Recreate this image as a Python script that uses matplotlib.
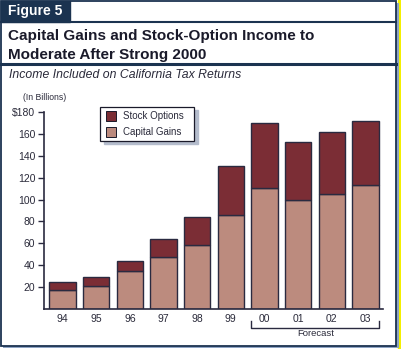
import matplotlib.pyplot as plt
from matplotlib.patches import Rectangle
from matplotlib.lines import Line2D

plt.rcParams['font.family'] = ['Liberation Sans', 'DejaVu Sans']

# Income included on California tax returns, in billions
years = ['94', '95', '96', '97', '98', '99', '00', '01', '02', '03']
capital_gains = [17, 21, 34, 47, 58, 85.5, 111, 100, 105.5, 113]
stock_options = [7, 7.5, 10, 16.5, 26, 45.5, 59, 52.5, 56, 59]

navy = '#1b3350'
dark_red = '#7b2d35'
light_red = '#bc8b7e'
edge = '#2a2a40'
txt = '#2a2a3a'

W, H = 401, 349
fig = plt.figure(figsize=(W / 100, H / 100), dpi=100)
fig.patch.set_facecolor('white')

def fx(px):
    return px / W

def fy(py):
    return 1 - py / H

# outer frame, shadow and the yellow page edge
fig.patches.append(Rectangle((fx(398.3), 0), 1 - fx(398.3), 1, transform=fig.transFigure,
                             color='#f4f000', zorder=0))
fig.patches.append(Rectangle((fx(3), fy(348)), fx(395.5), fy(3) - fy(348), transform=fig.transFigure,
                             facecolor='#8ea4c4', edgecolor='none', zorder=1))
fig.patches.append(Rectangle((fx(1), fy(345.5)), fx(395), fy(1) - fy(345.5), transform=fig.transFigure,
                             facecolor='white', edgecolor=navy, linewidth=1.3, zorder=2))

# "Figure 5" tab
fig.patches.append(Rectangle((fx(1), fy(22)), fx(69), fy(1) - fy(22), transform=fig.transFigure,
                             color=navy, zorder=3))
fig.text(fx(8), fy(11.5), 'Figure 5', color='white', fontsize=10, fontweight='bold',
         va='center', ha='left', zorder=4)
fig.add_artist(Line2D([fx(1), fx(396)], [fy(22), fy(22)], color=navy, linewidth=1.5, zorder=3))

fig.text(fx(8), fy(36), 'Capital Gains and Stock-Option Income to', color='#1a1a2a',
         fontsize=11, fontweight='bold', va='center', ha='left', zorder=4)
fig.text(fx(8), fy(54.5), 'Moderate After Strong 2000', color='#1a1a2a',
         fontsize=11, fontweight='bold', va='center', ha='left', zorder=4)
fig.add_artist(Line2D([fx(1), fx(396)], [fy(63.5), fy(63.5)], color=navy, linewidth=2.2, zorder=3))
fig.text(fx(9), fy(75.5), 'Income Included on California Tax Returns', color=txt,
         fontsize=8.8, fontstyle='italic', va='center', ha='left', zorder=4)

ax = fig.add_axes([fx(44.3), fy(308.5), fx(383) - fx(44.3), fy(112.3) - fy(308.5)])
ax.set_facecolor('none')
ax.set_zorder(5)

x = list(range(len(years)))
ax.bar(x, capital_gains, width=0.79, color=light_red, edgecolor=edge, linewidth=1.0,
       label='Capital Gains')
ax.bar(x, stock_options, width=0.79, bottom=capital_gains, color=dark_red,
       edgecolor=edge, linewidth=1.0, label='Stock Options')

ax.set_xlim(-0.54, 9.52)
ax.set_ylim(0, 180)
ax.set_yticks([20, 40, 60, 80, 100, 120, 140, 160, 180])
ax.set_yticklabels(['20', '40', '60', '80', '100', '120', '140', '160', '$180'])
ax.set_xticks(x)
ax.set_xticklabels(years)
ax.tick_params(axis='y', length=4, width=1, color=edge, labelsize=7.5, labelcolor=txt, pad=2.5)
ax.tick_params(axis='x', length=0, labelsize=7.5, labelcolor=txt, pad=4)
for s in ['top', 'right']:
    ax.spines[s].set_visible(False)
for s in ['left', 'bottom']:
    ax.spines[s].set_color(edge)
    ax.spines[s].set_linewidth(1.2)

fig.text(fx(44.5), fy(97.5), '(In Billions)', color=txt, fontsize=6.2, va='center', ha='center', zorder=6)

# legend box with its shadow
fig.patches.append(Rectangle((fx(103.5), fy(144)), fx(94), fy(106.7) - fy(140.7),
                             transform=fig.transFigure, color='#b4bccc', zorder=6))
fig.patches.append(Rectangle((fx(100), fy(140.7)), fx(94), fy(106.7) - fy(140.7),
                             transform=fig.transFigure, facecolor='white', edgecolor='#1a1a2a',
                             linewidth=0.9, zorder=7))
for y0, col, lab in [(116, dark_red, 'Stock Options'), (132, light_red, 'Capital Gains')]:
    fig.patches.append(Rectangle((fx(106), fy(y0 + 5)), fx(10), fy(y0 - 5) - fy(y0 + 5),
                                 transform=fig.transFigure, facecolor=col, edgecolor='#1a1a2a',
                                 linewidth=0.7, zorder=8))
    fig.text(fx(123), fy(y0), lab, color=txt, fontsize=7, va='center', ha='left', zorder=8)

# forecast bracket under the last four years
fig.add_artist(Line2D([fx(251), fx(251), fx(379), fx(379)], [fy(320.5), fy(327.5), fy(327.5), fy(320.5)],
                      color=edge, linewidth=1.0, zorder=6))
fig.text(fx(315.5), fy(333.5), 'Forecast', color=txt, fontsize=6.8, va='center', ha='center', zorder=6)

fig.savefig('out.png', dpi=100)
